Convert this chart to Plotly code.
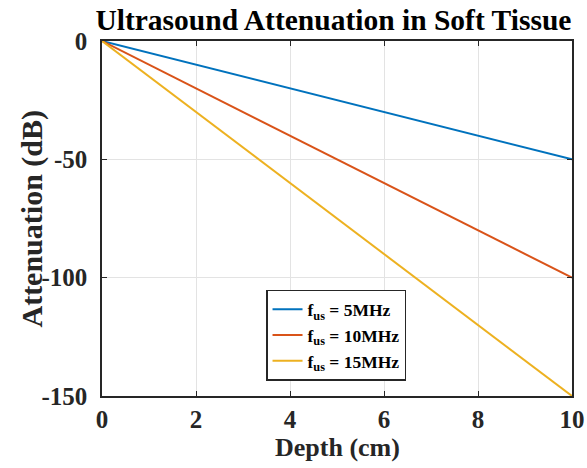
import plotly.graph_objects as go

depth = [0, 1, 2, 3, 4, 5, 6, 7, 8, 9, 10]
att_5 = [0, -5, -10, -15, -20, -25, -30, -35, -40, -45, -50]
att_10 = [0, -10, -20, -30, -40, -50, -60, -70, -80, -90, -100]
att_15 = [0, -15, -30, -45, -60, -75, -90, -105, -120, -135, -150]
names = ["<b>f<sub>us</sub> = 5MHz</b>", "<b>f<sub>us</sub> = 10MHz</b>", "<b>f<sub>us</sub> = 15MHz</b>"]
colors = ["#0072BD", "#D95319", "#EDB120"]
x_ticks = [0, 2, 4, 6, 8, 10]
y_ticks = [0, -50, -100, -150]

FONT = "Liberation Serif"
fig = go.Figure()
for ys, nm, c in zip([att_5, att_10, att_15], names, colors):
    fig.add_trace(go.Scatter(x=depth, y=ys, mode="lines", name=nm,
                             line=dict(color=c, width=2)))

axis_common = dict(showline=True, linecolor="#262626", linewidth=1.5, mirror="ticks",
                   ticks="inside", ticklen=5, tickwidth=1.2, tickcolor="#262626",
                   showgrid=True, gridcolor="#e3e3e3", gridwidth=1, zeroline=False,
                   automargin=False, ticklabeloverflow="allow",
                   tickfont=dict(family=FONT, size=25, color="#262626"))
fig.update_layout(
    width=587, height=468,
    margin=dict(l=102, r=15, t=41, b=72),
    paper_bgcolor="white", plot_bgcolor="white",
    title=dict(text="<b>Ultrasound Attenuation in Soft Tissue</b>", x=0.568, xanchor="center",
               y=0.957, yanchor="middle",
               font=dict(family=FONT, size=29.5, color="black")),
    xaxis=dict(range=[0, 10], tickvals=x_ticks, ticktext=[f"<b>{v}</b>" for v in x_ticks],
               ticklabelstandoff=0, **axis_common),
    yaxis=dict(range=[-150, 0], tickvals=y_ticks, ticktext=[f"<b>{v}</b>" for v in y_ticks],
               ticklabelstandoff=8, **axis_common),
    annotations=[
        dict(text="<b>Depth (cm)</b>", xref="paper", yref="paper", x=0.5, y=-0.145,
             xanchor="center", yanchor="middle", showarrow=False,
             font=dict(family=FONT, size=26, color="#262626")),
        dict(text="<b>Attenuation (dB)</b>", xref="paper", yref="paper", x=-0.151, y=0.5,
             xanchor="center", yanchor="middle", textangle=-90, showarrow=False,
             font=dict(family=FONT, size=30, color="#262626")),
    ],
    legend=dict(x=0.349, y=0.299, xanchor="left", yanchor="top",
                bgcolor="white", bordercolor="#262626", borderwidth=1.5,
                font=dict(family=FONT, size=17.5, color="black"),
                tracegroupgap=0, itemwidth=30),
    showlegend=True,
)
# remove the browser's default 8px page margin so the figure fills the window exactly
fig.write_html("out.html", config={"displayModeBar": False},
               post_script="document.body.style.margin='0px';document.body.style.overflow='hidden';")
